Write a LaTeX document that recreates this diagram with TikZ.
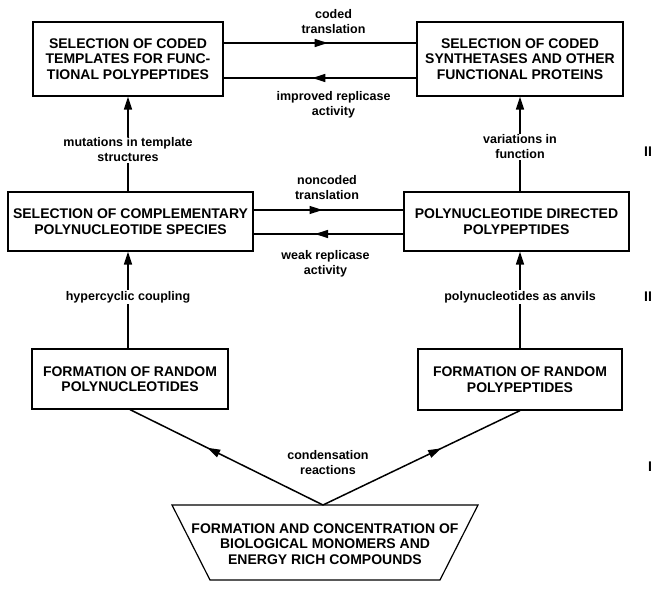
\documentclass[tikz,border=0pt]{standalone}
\usepackage{fontspec}
\setmainfont{Liberation Sans}
\usetikzlibrary{arrows.meta,decorations.markings}

\tikzset{
  stage/.style={draw, line width=1.2pt, align=center, inner sep=0pt,
    font=\fontsize{14}{15.5}\selectfont\bfseries},
  lbl/.style={align=center, fill=white, inner sep=1pt,
    font=\fontsize{12.5}{15}\selectfont\bfseries},
  level/.style={font=\fontsize{14}{14}\selectfont\bfseries},
  flow/.style={line width=1.5pt, -{Triangle[length=13pt,width=8pt]}},
  midflow/.style={line width=1.5pt, postaction={decorate},
    decoration={markings, mark=at position #1 with {\arrow{Triangle[length=13pt,width=8pt]}}}},
  midflow/.default=0.55
}

\begin{document}
\begin{tikzpicture}[x=1pt,y=-1pt]
\useasboundingbox (0,0) rectangle (657,591);

% boxes
\node[stage, minimum width=190pt, minimum height=74pt] (codedtmpl) at (128,59)
  {SELECTION OF CODED\\TEMPLATES FOR FUNC-\\TIONAL POLYPEPTIDES};
\node[stage, minimum width=206pt, minimum height=74pt] (codedsynth) at (520,59)
  {SELECTION OF CODED\\SYNTHETASES AND OTHER\\FUNCTIONAL PROTEINS};
\node[stage, minimum width=245pt, minimum height=59pt] (complpoly) at (130.5,221.5)
  {SELECTION OF COMPLEMENTARY\\POLYNUCLEOTIDE SPECIES};
\node[stage, minimum width=225pt, minimum height=59pt] (dirpep) at (516.5,221.5)
  {POLYNUCLEOTIDE DIRECTED\\POLYPEPTIDES};
\node[stage, minimum width=196pt, minimum height=60pt] (randnuc) at (130,379)
  {FORMATION OF RANDOM\\POLYNUCLEOTIDES};
\node[stage, minimum width=204pt, minimum height=61pt] (randpep) at (520,379.5)
  {FORMATION OF RANDOM\\POLYPEPTIDES};

% monomer pool (trapezoid)
\node[stage, draw=none] (monomers) at (325,544)
  {FORMATION AND CONCENTRATION OF\\BIOLOGICAL MONOMERS AND\\ENERGY RICH COMPOUNDS};
\draw[line width=1.2pt] (172,505) -- (478,505) -- (440,580) -- (210,580) -- cycle;
\coordinate (apex) at (323,505);

% horizontal links
\draw[midflow=0.54] ([yshift=16pt]codedtmpl.east) -- ([yshift=16pt]codedsynth.west)
  node[lbl, pos=0.57, above=8pt] {coded\\translation};
\draw[midflow=0.54] ([yshift=-19pt]codedsynth.west) -- ([yshift=-19pt]codedtmpl.east)
  node[lbl, pos=0.43, below=12pt] {improved replicase\\activity};
\draw[midflow=0.46] ([yshift=11.5pt]complpoly.east) -- ([yshift=11.5pt]dirpep.west)
  node[lbl, pos=0.49, above=9pt] {noncoded\\translation};
\draw[midflow=0.59] ([yshift=-12.5pt]dirpep.west) -- ([yshift=-12.5pt]complpoly.east)
  node[lbl, pos=0.52, below=15pt] {weak replicase\\activity};

% vertical links
\draw[flow] (complpoly.north -| codedtmpl.south) -- (codedtmpl.south)
  node[lbl, pos=0.44] {mutations in template\\structures};
\draw[flow] (dirpep.north -| codedsynth.south) -- (codedsynth.south)
  node[lbl, pos=0.47] {variations in\\function};
\draw[flow] (randnuc.north -| codedtmpl.south) -- (complpoly.south -| codedtmpl.south)
  node[lbl, pos=0.53] {hypercyclic coupling};
\draw[flow] (randpep.north -| codedsynth.south) -- (dirpep.south -| codedsynth.south)
  node[lbl, pos=0.53] {polynucleotides as anvils};

% condensation
\draw[midflow=0.6] (apex) -- (randnuc.south);
\draw[midflow=0.6] (apex) -- (randpep.south);
\node[lbl, fill=none] (cond) at (328,463) {condensation\\reactions};

% levels
\node[level] (lvlthree) at (648,152) {II};
\node[level] (lvltwo) at (648,297) {II};
\node[level] (lvlone) at (650,467) {I};
\end{tikzpicture}
\end{document}
